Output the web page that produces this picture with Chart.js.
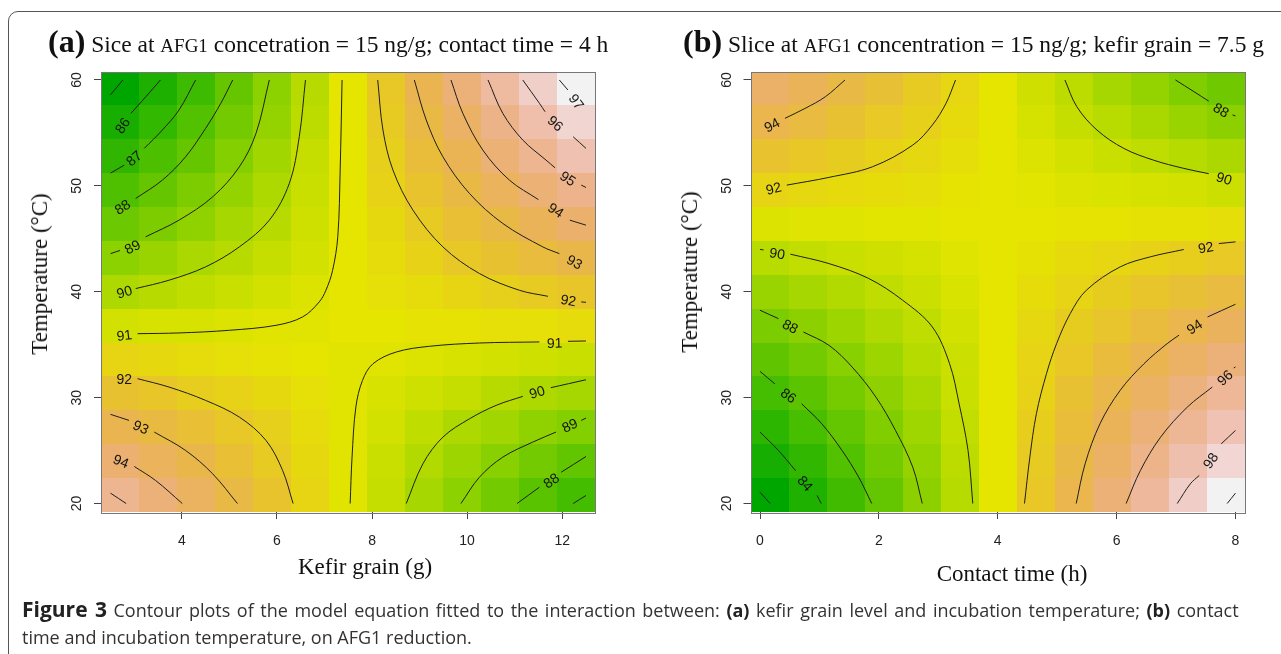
<!DOCTYPE html>
<html>
<head>
<meta charset="utf-8">
<script src="https://cdn.jsdelivr.net/npm/chart.js@4.4.1/dist/chart.umd.min.js"></script>
<style>
  body { margin: 0; width: 1281px; height: 654px; background: #fff; overflow: hidden; position: relative; }
  #frame { position: absolute; left: 8px; top: 11px; width: 1300px; height: 700px; border: 1px solid #555; border-radius: 10px; }
  .wrap { position: absolute; top: 0; height: 600px; }
  #wrapA { left: 0; width: 640px; }
  #wrapB { left: 640px; width: 641px; }
  .title { position: absolute; white-space: nowrap; font-family: "Liberation Serif", serif; font-size: 23.5px; line-height: 36px; color: #111; }
  .title b { font-size: 32px; }
  .title .sm { font-size: 19px; }
  .axt { position: absolute; white-space: nowrap; font-family: "Liberation Serif", serif; font-size: 23px; color: #111; transform: translate(-50%, -50%); }
  .axt.rot { transform: translate(-50%, -50%) rotate(-90deg); }
  #caption { position: absolute; left: 22px; top: 596px; font-family: "Open Sans", sans-serif; font-size: 18px; line-height: 27px; color: #333; white-space: nowrap; }
  #caption b { color: #222; }
  #caption .fig { font-size: 21px; }
  #caption .l1 { word-spacing: 1.9px; }
</style>
</head>
<body>
<div id="frame"></div>
<div class="wrap" id="wrapA"><canvas id="chartA" width="640" height="600"></canvas></div>
<div class="wrap" id="wrapB"><canvas id="chartB" width="641" height="600"></canvas></div>

<div class="title" style="left:48px; top:23px;"><b>(a)</b> Sice at <span class="sm">AFG1</span> concetration = 15 ng/g; contact time = 4 h</div>
<div class="title" style="left:683px; top:23px;"><b>(b)</b> Slice at <span class="sm">AFG1</span> concentration = 15 ng/g; kefir grain = 7.5 g</div>

<div class="axt" style="left:365px; top:567px;">Kefir grain (g)</div>
<div class="axt" style="left:1012px; top:574px;">Contact time (h)</div>
<div class="axt rot" style="left:40px; top:274px;">Temperature (°C)</div>
<div class="axt rot" style="left:690px; top:272px;">Temperature (°C)</div>

<div id="caption"><span class="l1"><b class="fig">Figure 3</b> Contour plots of the model equation fitted to the interaction between: <b>(a)</b> kefir grain level and incubation temperature; <b>(b)</b> contact</span><br>time and incubation temperature, on AFG1 reduction.</div>

<script>
// cell centres of the image grids (x for each panel, temperature rows from top to bottom)
const kefirGrain = [2.7, 3.5, 4.3, 5.1, 5.9, 6.7, 7.5, 8.3, 9.1, 9.9, 10.7, 11.5, 12.3];
const contactTime = [0.16, 0.8, 1.44, 2.08, 2.72, 3.36, 4.0, 4.64, 5.28, 5.92, 6.56, 7.2, 7.84];
const temperature = [59.2, 56.0, 52.8, 49.6, 46.4, 43.2, 40.0, 36.8, 33.6, 30.4, 27.2, 24.0, 20.8];

// AFG1 reduction (%), one row per temperature
const reductionA = [
  [85.0, 86.0, 87.0, 88.1, 89.1, 90.1, 91.1, 92.1, 93.2, 94.2, 95.2, 96.2, 97.2],
  [85.8, 86.7, 87.6, 88.5, 89.3, 90.2, 91.1, 92.0, 92.9, 93.7, 94.6, 95.5, 96.4],
  [86.6, 87.4, 88.1, 88.9, 89.6, 90.4, 91.1, 91.8, 92.6, 93.3, 94.1, 94.8, 95.6],
  [87.5, 88.1, 88.7, 89.3, 89.9, 90.5, 91.1, 91.7, 92.3, 92.9, 93.5, 94.1, 94.7],
  [88.3, 88.7, 89.2, 89.7, 90.1, 90.6, 91.1, 91.5, 92.0, 92.5, 92.9, 93.4, 93.9],
  [89.1, 89.4, 89.8, 90.1, 90.4, 90.7, 91.1, 91.4, 91.7, 92.1, 92.4, 92.7, 93.0],
  [89.9, 90.1, 90.3, 90.5, 90.7, 90.9, 91.1, 91.3, 91.4, 91.6, 91.8, 92.0, 92.2],
  [90.7, 90.8, 90.8, 90.9, 91.0, 91.0, 91.1, 91.1, 91.2, 91.2, 91.3, 91.3, 91.4],
  [91.6, 91.5, 91.4, 91.3, 91.2, 91.1, 91.0, 91.0, 90.9, 90.8, 90.7, 90.6, 90.5],
  [92.4, 92.2, 91.9, 91.7, 91.5, 91.3, 91.0, 90.8, 90.6, 90.4, 90.1, 89.9, 89.7],
  [93.2, 92.8, 92.5, 92.1, 91.8, 91.4, 91.0, 90.7, 90.3, 89.9, 89.6, 89.2, 88.9],
  [94.0, 93.5, 93.0, 92.5, 92.0, 91.5, 91.0, 90.5, 90.0, 89.5, 89.0, 88.5, 88.0],
  [94.8, 94.2, 93.6, 92.9, 92.3, 91.6, 91.0, 90.4, 89.7, 89.1, 88.5, 87.8, 87.2]
];
const reductionB = [
  [95.0, 94.4, 93.7, 93.1, 92.4, 91.8, 91.1, 90.4, 89.8, 89.1, 88.5, 87.8, 87.2],
  [94.0, 93.5, 93.0, 92.5, 92.1, 91.6, 91.1, 90.6, 90.1, 89.7, 89.2, 88.7, 88.2],
  [92.9, 92.6, 92.3, 92.0, 91.7, 91.4, 91.1, 90.8, 90.5, 90.2, 89.9, 89.6, 89.3],
  [91.9, 91.7, 91.6, 91.5, 91.4, 91.2, 91.1, 91.0, 90.8, 90.7, 90.6, 90.5, 90.3],
  [90.8, 90.9, 90.9, 91.0, 91.0, 91.1, 91.1, 91.1, 91.2, 91.2, 91.3, 91.3, 91.4],
  [89.7, 90.0, 90.2, 90.4, 90.6, 90.9, 91.1, 91.3, 91.6, 91.8, 92.0, 92.2, 92.5],
  [88.7, 89.1, 89.5, 89.9, 90.3, 90.7, 91.1, 91.5, 91.9, 92.3, 92.7, 93.1, 93.5],
  [87.6, 88.2, 88.8, 89.4, 89.9, 90.5, 91.1, 91.7, 92.3, 92.8, 93.4, 94.0, 94.6],
  [86.6, 87.3, 88.1, 88.8, 89.6, 90.3, 91.1, 91.9, 92.6, 93.4, 94.1, 94.9, 95.6],
  [85.5, 86.4, 87.4, 88.3, 89.2, 90.2, 91.1, 92.0, 93.0, 93.9, 94.8, 95.8, 96.7],
  [84.5, 85.6, 86.7, 87.8, 88.9, 90.0, 91.1, 92.2, 93.3, 94.4, 95.5, 96.6, 97.7],
  [83.4, 84.7, 86.0, 87.3, 88.5, 89.8, 91.1, 92.4, 93.7, 94.9, 96.2, 97.5, 98.8],
  [82.3, 83.8, 85.3, 86.7, 88.2, 89.6, 91.1, 92.6, 94.0, 95.5, 96.9, 98.4, 99.9]
];

const kefirTicks = [4, 6, 8, 10, 12];
const timeTicks = [0, 2, 4, 6, 8];
const tempTicks = [20, 30, 40, 50, 60];

// contour lines: [level, label centre (or null), points before label, points after label]
const contoursA = [
  [85, null, [[2.5, 58.6], [2.76, 60]], []],
  [86, [2.75, 55.7], [], [[2.93, 56.85], [3.24, 58.4], [3.55, 60]]],
  [87, [2.99, 52.6], [[2.5, 51.2], [2.79, 51.96]], [[3.21, 53.54], [3.59, 55.27], [3.94, 57.16], [4.29, 60]]],
  [88, [2.75, 48.0], [], [[3.03, 48.81], [3.59, 50.54], [4.08, 52.75], [4.5, 55.43], [4.82, 57.8], [5.07, 60]]],
  [89, [2.96, 44.24], [[2.5, 43.6], [2.7, 43.9]], [[3.24, 45.19], [3.94, 46.76], [4.65, 48.97], [5.21, 51.8], [5.56, 54.96], [5.84, 60]]],
  [90, [2.79, 39.98], [], [[3.03, 40.3], [3.73, 41.09], [4.5, 42.35], [5.21, 44.24], [5.84, 46.76], [6.26, 50.23], [6.47, 54.64], [6.6, 60]]],
  [91, [2.79, 35.89], [], [[3.07, 36.04], [3.94, 36.11], [5.0, 36.36], [5.98, 36.83], [6.54, 37.62], [6.89, 39.04], [7.03, 40.14], [7.17, 42.0], [7.28, 45.2], [7.33, 51.49], [7.37, 60]]],
  [91, [11.84, 35.16], [[7.54, 20], [7.58, 24.38], [7.66, 29.11], [7.8, 31.63], [8.02, 33.2], [8.51, 34.31], [9.21, 34.85], [10.26, 35.16], [11.52, 35.26]], [[12.12, 35.32], [12.5, 35.35]]],
  [92, [12.13, 39.2], [[8.12, 60], [8.23, 55.27], [8.44, 51.49], [8.86, 47.71], [9.49, 44.24], [10.26, 41.72], [11.1, 40.14], [11.7, 39.57]], [[12.4, 39.04], [12.5, 39.0]]],
  [92, [2.79, 31.79], [], [[3.07, 31.79], [3.73, 31.0], [4.5, 29.74], [5.21, 28.16], [5.77, 25.96], [6.12, 23.12], [6.34, 20]]],
  [93, [12.26, 42.82], [[8.89, 60], [9.14, 56.22], [9.49, 52.75], [10.05, 49.28], [10.75, 46.45], [11.59, 44.24], [11.94, 43.6]], []],
  [93, [3.14, 27.22], [[2.5, 28.42], [2.89, 27.85]], [[3.42, 26.75], [4.08, 25.01], [4.65, 22.8], [5.17, 20]]],
  [94, [11.87, 47.71], [[9.66, 60], [9.91, 56.85], [10.33, 53.38], [10.89, 50.54], [11.5, 48.7]], [[12.16, 46.76], [12.5, 46.29]]],
  [94, [2.72, 24.0], [], [[3.0, 23.5], [3.45, 22.17], [4.01, 20]]],
  [95, [12.12, 50.7], [[10.44, 60], [10.75, 56.85], [11.17, 54.33], [11.66, 52.43], [11.85, 51.7]], [[12.4, 50.07], [12.5, 49.85]]],
  [95, null, [[2.5, 20.98], [2.83, 20]], []],
  [96, [11.86, 55.9], [[11.17, 60], [11.52, 57.8], [11.64, 57.0]], [[12.23, 54.64], [12.5, 53.54]]],
  [97, [12.3, 57.95], [[11.94, 60], [12.12, 59.05]], []],
  [87, null, [[12.23, 20], [12.5, 20.76]], []],
  [88, [11.77, 22.17], [[11.05, 20], [11.52, 21.54]], [[11.98, 22.96], [12.5, 24.44]]],
  [89, [12.16, 27.38], [[9.87, 20], [10.26, 22.49], [10.75, 24.38], [11.38, 25.8], [11.87, 26.75]], [[12.4, 27.85], [12.5, 28.07]]],
  [90, [11.47, 30.53], [[8.72, 20], [9.07, 23.75], [9.49, 26.27], [10.05, 28.0], [10.61, 29.27], [11.17, 30.12]], [[11.76, 30.94], [12.5, 31.69]]]
];
const contoursB = [
  [82, null, [[0, 21.07], [0.17, 20]], []],
  [84, [0.76, 21.9], [[0, 26.75], [0.31, 25.01], [0.6, 23.1]], [[0.96, 20.76], [1.03, 20]]],
  [86, [0.48, 30.21], [[0, 32.48], [0.25, 31.3]], [[0.7, 29.42], [1.04, 27.53], [1.38, 25.01], [1.66, 22.49], [1.88, 20]]],
  [88, [0.51, 36.74], [[0, 38.25], [0.31, 37.46]], [[0.73, 36.2], [1.16, 34.94], [1.55, 32.89], [1.95, 30.05], [2.28, 26.9], [2.57, 23.43], [2.73, 20]]],
  [90, [0.29, 43.61], [[0, 44.0], [0.06, 43.95]], [[0.51, 43.55], [1.16, 42.66], [1.83, 41.25], [2.4, 39.2], [2.9, 36.67], [3.19, 33.2], [3.35, 29.42], [3.5, 25.01], [3.58, 20]]],
  [90, [7.81, 50.7], [[5.13, 60], [5.33, 57.48], [5.67, 55.27], [6.12, 53.54], [6.62, 52.43], [7.13, 51.65], [7.55, 51.15]], []],
  [88, [7.76, 57.16], [[6.99, 60], [7.3, 58.9], [7.55, 58.0]], [[7.95, 56.7], [8, 56.6]]],
  [92, [0.23, 49.76], [], [[0.45, 50.07], [1.16, 50.8], [1.89, 51.8], [2.57, 53.85], [2.9, 55.75], [3.13, 57.8], [3.29, 60]]],
  [94, [0.2, 55.75], [], [[0.42, 56.38], [0.76, 57.32], [1.1, 58.42], [1.43, 60]]],
  [92, [7.5, 44.18], [[4.45, 20], [4.54, 24.38], [4.65, 28.48], [4.82, 32.26], [4.99, 35.1], [5.22, 37.94], [5.49, 40.14], [6.06, 42.35], [6.57, 43.3], [7.13, 43.99]], [[7.72, 44.55], [8, 44.71]]],
  [94, [7.31, 36.7], [[5.32, 20], [5.47, 23.75], [5.72, 27.53], [6.06, 30.69], [6.46, 33.2], [6.85, 35.1], [7.05, 35.9]], [[7.53, 37.62], [8, 38.82]]],
  [96, [7.82, 31.88], [[6.16, 20], [6.4, 23.12], [6.74, 26.27], [7.19, 29.11], [7.61, 31.0]], [[7.97, 32.8], [8, 32.9]]],
  [98, [7.58, 24.06], [[7.02, 20], [7.24, 21.86], [7.39, 22.65]], [[7.76, 25.64], [8, 26.9]]],
  [100, null, [[7.86, 20], [8, 20.98]], []]
];

// R terrain.colors ramp, t in [0, 1]
function terrainColour(t) {
  let h, s, v;
  if (t < 0.5) {
    const u = t / 0.5;
    h = 1 / 3 - u / 6; s = 1; v = 0.65 + 0.25 * u;
  } else {
    const u = (t - 0.5) / 0.5;
    h = (1 - u) / 6; s = 1 - u; v = 0.9 + 0.05 * u;
  }
  const i = Math.floor(h * 6), f = h * 6 - i;
  const p = v * (1 - s), q = v * (1 - f * s), w = v * (1 - (1 - f) * s);
  const rgb = [[v, w, p], [q, v, p], [p, v, w], [p, q, v], [w, p, v], [v, p, q]][i % 6];
  return 'rgb(' + rgb.map(c => Math.round(c * 255)).join(',') + ')';
}

function heatPlugin(cols, rows, z) {
  const all = z.flat();
  const lo = Math.min(...all), hi = Math.max(...all);
  return {
    id: 'heat',
    beforeDatasetsDraw(chart) {
      const { ctx, scales: { x, y } } = chart;
      const hx = (cols[1] - cols[0]) / 2, hy = (rows[0] - rows[1]) / 2;
      ctx.save();
      rows.forEach((yv, j) => cols.forEach((xv, i) => {
        const x0 = Math.round(x.getPixelForValue(xv - hx)), x1 = Math.round(x.getPixelForValue(xv + hx));
        const y0 = Math.round(y.getPixelForValue(yv + hy)), y1 = Math.round(y.getPixelForValue(yv - hy));
        ctx.fillStyle = terrainColour((z[j][i] - lo) / (hi - lo));
        ctx.fillRect(x0, y0, x1 - x0, y1 - y0);
      }));
      ctx.restore();
    }
  };
}

// contour labels sit in the gap of each line, turned along it
function labelPlugin(lines) {
  return {
    id: 'clabels',
    afterDatasetsDraw(chart) {
      const { ctx, chartArea: ca, scales: { x, y } } = chart;
      ctx.save();
      ctx.font = '14px "Liberation Sans", Arial, sans-serif';
      ctx.fillStyle = '#151515';
      ctx.textAlign = 'center';
      ctx.textBaseline = 'middle';
      lines.forEach(([lev, lab, before, after]) => {
        if (!lab) return;
        const a = before.length ? before[before.length - 1] : lab;
        const b = after.length ? after[0] : lab;
        let ang = Math.atan2(y.getPixelForValue(b[1]) - y.getPixelForValue(a[1]),
                             x.getPixelForValue(b[0]) - x.getPixelForValue(a[0]));
        if (ang > Math.PI / 2) ang -= Math.PI;
        if (ang < -Math.PI / 2) ang += Math.PI;
        ctx.save();
        ctx.translate(x.getPixelForValue(lab[0]), y.getPixelForValue(lab[1]));
        ctx.rotate(ang);
        ctx.fillText(String(lev), 0, 1);
        ctx.restore();
      });
      // plot box
      ctx.strokeStyle = '#777';
      ctx.lineWidth = 1;
      ctx.strokeRect(Math.round(ca.left) + 0.5, Math.round(ca.top) + 0.5, Math.round(ca.width) - 1, Math.round(ca.height));
      ctx.restore();
    }
  };
}

function contourSets(lines) {
  return lines.map(([lev, lab, before, after]) => {
    const pts = before.map(p => ({ x: p[0], y: p[1] }));
    if (lab && before.length && after.length) pts.push({ x: lab[0], y: null });
    after.forEach(p => pts.push({ x: p[0], y: p[1] }));
    return {
      label: String(lev), data: pts, showLine: true, spanGaps: false,
      borderColor: '#1e1e1e', borderWidth: 1, pointRadius: 0, tension: 0.35
    };
  });
}

const tickFont = { family: '"Liberation Sans", Arial, sans-serif', size: 14 };

function makeChart(id, cols, z, xTicks, yWidth, padRight, lines) {
  const hx = (cols[1] - cols[0]) / 2, hy = (temperature[0] - temperature[1]) / 2;
  return new Chart(document.getElementById(id), {
    type: 'scatter',
    data: { datasets: contourSets(lines) },
    options: {
      responsive: false,
      animation: false,
      events: [],
      layout: { padding: { left: 0, top: 71.5, right: padRight, bottom: 0 } },
      plugins: { legend: { display: false }, tooltip: { enabled: false }, title: { display: false } },
      scales: {
        x: {
          type: 'linear',
          min: cols[0] - hx, max: cols[cols.length - 1] + hx,
          afterBuildTicks: s => { s.ticks = xTicks.map(v => ({ value: v })); },
          afterFit: s => { s.height = 88; },
          border: { display: false },
          grid: { drawOnChartArea: false, drawTicks: true, tickLength: 7, color: '#444' },
          ticks: { font: tickFont, color: '#222', padding: 14, maxRotation: 0, autoSkip: false }
        },
        y: {
          type: 'linear',
          min: temperature[temperature.length - 1] - hy, max: temperature[0] + hy,
          afterBuildTicks: s => { s.ticks = tempTicks.map(v => ({ value: v })); },
          afterFit: s => { s.width = yWidth; },
          border: { display: false },
          grid: { drawOnChartArea: false, drawTicks: true, tickLength: 7, color: '#444' },
          ticks: { font: tickFont, color: '#222', padding: 9, minRotation: 90, maxRotation: 90, crossAlign: 'center', autoSkip: false }
        }
      }
    },
    plugins: [heatPlugin(cols, temperature, z), labelPlugin(lines)]
  });
}

makeChart('chartA', kefirGrain, reductionA, kefirTicks, 101, 44.5, contoursA);
makeChart('chartB', contactTime, reductionB, timeTicks, 110.5, 36, contoursB);
</script>
</body>
</html>
